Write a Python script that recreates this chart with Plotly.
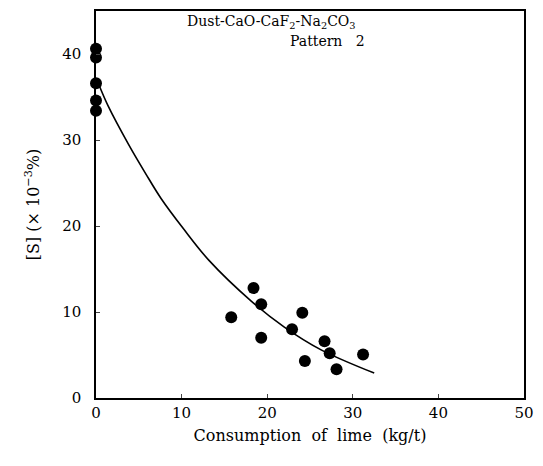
import plotly.graph_objects as go

# Measured points: consumption of lime (kg/t) vs [S] (x10^-3 %)
lime_x = [0, 0, 0, 0, 0, 15.8, 18.4, 19.3, 19.3, 22.9, 24.1, 24.4, 26.7, 27.3, 28.1, 31.2]
sulfur_y = [40.6, 39.6, 36.6, 34.6, 33.4, 9.4, 12.8, 10.9, 7.0, 8.0, 9.9, 4.3, 6.6, 5.2, 3.35, 5.05]

# Fitted curve
curve_x = [0.35, 1.4, 3.8, 5.8, 7.6, 10.2, 13.2, 18.1, 22.0, 26.3, 32.5]
curve_y = [36.4, 34.0, 29.5, 26.1, 23.2, 19.7, 16.0, 11.3, 8.25, 5.6, 2.9]

x_ticks = [0, 10, 20, 30, 40, 50]
y_ticks = [0, 10, 20, 30, 40]

serif = "DejaVu Serif, Liberation Serif, serif"

fig = go.Figure()
fig.add_trace(go.Scatter(x=curve_x, y=curve_y, mode="lines",
                         line=dict(color="black", width=1.6, shape="spline"),
                         showlegend=False, hoverinfo="skip"))
fig.add_trace(go.Scatter(x=lime_x, y=sulfur_y, mode="markers",
                         marker=dict(color="black", size=12),
                         cliponaxis=False, showlegend=False))

fig.update_layout(
    width=543, height=466,
    margin=dict(l=96, r=15, t=9, b=68),
    paper_bgcolor="white", plot_bgcolor="white",
    font=dict(family=serif, size=15, color="black"),
    xaxis=dict(range=[0, 50], tickvals=x_ticks, ticks="inside", ticklen=4,
               showgrid=False, zeroline=False, showline=True, linecolor="black",
               linewidth=1.5, mirror=True, tickfont=dict(family=serif, size=15),
               title=dict(text="Consumption  of  lime  (kg/t)", standoff=9,
                          font=dict(family=serif, size=16))),
    yaxis=dict(range=[0, 45], tickvals=y_ticks, ticks="inside", ticklen=4,
               showgrid=False, zeroline=False, showline=True, linecolor="black",
               linewidth=1.5, mirror=True, tickfont=dict(family=serif, size=15),
               ticklabelstandoff=10,
               title=dict(text="[S] (× 10<sup>−3</sup>%)", standoff=19,
                          font=dict(family=serif, size=16))),
    annotations=[
        dict(x=0.208, y=1.0, xref="paper", yref="paper", xanchor="left", yanchor="top",
             text="Dust-CaO-CaF<sub>2</sub>-Na<sub>2</sub>CO<sub>3</sub>", showarrow=False,
             font=dict(family=serif, size=14, color="black")),
        dict(x=0.449, y=0.948, xref="paper", yref="paper", xanchor="left", yanchor="top",
             text="Pattern   2", showarrow=False,
             font=dict(family=serif, size=14, color="black")),
    ],
)

fig.write_html("out.html", config={"displayModeBar": False},
               post_script="document.body.style.margin='0';document.body.style.overflow='hidden';")
